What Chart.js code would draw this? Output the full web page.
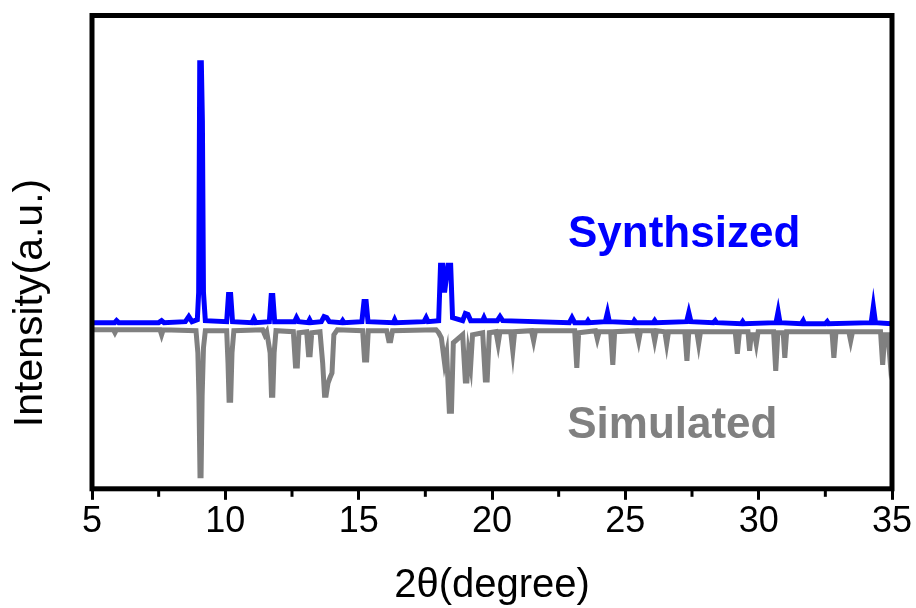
<!DOCTYPE html>
<html lang="en">
<head>
  <meta charset="UTF-8">
  <title>XRD pattern</title>
  <script src="https://cdn.jsdelivr.net/npm/chart.js"></script>
  <style>
    body { margin: 0; background: #fff; }
    #wrap { width: 916px; height: 608px; }
  </style>
</head>
<body>
  <div id="wrap"><canvas id="xrd" width="916" height="608"></canvas></div>
  <script>
    // 2theta (degree) and intensity (a.u.)
    const synthTheta = [5.0, 5.85, 5.92, 6.0, 7.5, 7.61, 7.7, 8.5, 8.63, 8.75, 8.95, 9.0, 9.04, 9.1, 9.14, 9.18, 9.25,
      10.05, 10.12, 10.2, 10.27, 11.0, 11.07, 11.14, 11.65, 11.72, 11.78, 11.85, 12.6, 12.67, 12.75, 13.1, 13.16, 13.22,
      13.6, 13.7, 13.8, 13.9, 14.35, 14.4, 14.45, 15.12, 15.2, 15.28, 15.35, 16.3, 16.35, 16.4, 17.45, 17.53, 17.6,
      18.0, 18.07, 18.15, 18.22, 18.35, 18.45, 18.52, 18.9, 19.0, 19.1, 19.2, 19.65, 19.7, 19.75, 20.2, 20.3, 20.4,
      22.9, 23.0, 23.1, 23.55, 23.6, 23.65, 24.25, 24.33, 24.4, 25.3, 25.34, 25.4, 26.05, 26.1, 26.15, 27.3, 27.38, 27.46,
      28.3, 28.37, 28.42, 29.35, 29.4, 29.45, 30.65, 30.73, 30.8, 31.6, 31.67, 31.72, 32.5, 32.57, 32.62, 34.22, 34.3, 34.38, 35.0];
    const synthInt = [0, 0, 2, 0, 0, 2, 0, 1, 6, 1, 3, 30, 258, 258, 200, 30, 2,
      1, 28, 28, 1, 0, 4, 0, 1, 27, 27, 1, 1, 5, 1, 0, 3, 0,
      1, 6, 5, 1, 0, 2, 0, 1, 21, 21, 1, 0, 3, 0, 1, 5, 1,
      2, 57, 57, 30, 57, 57, 5, 2, 9, 8, 2, 2, 5, 2, 2, 6, 2,
      0, 5, 0, 0, 2, 0, 1, 10, 1, 0, 2, 0, 0, 2, 0, 1, 10, 1,
      0, 2, 0, -1, 1, -1, 0, 11, 0, -1, 2, -1, -1, 1, -1, 0, 16, 0, -1];

    const simTheta = [5.0, 5.8, 5.86, 5.92, 7.55, 7.61, 7.67, 8.9, 8.97, 9.01, 9.05, 9.09, 9.13, 9.18, 9.25,
      10.05, 10.1, 10.14, 10.2, 10.25, 10.32, 11.4, 11.48, 11.55, 11.68, 11.73, 11.78, 11.83, 11.9,
      12.55, 12.63, 12.7, 12.76, 13.05, 13.12, 13.18, 13.24, 13.55, 13.65, 13.72, 13.78, 13.85, 13.92, 14.0, 14.07, 14.2,
      15.15, 15.22, 15.3, 15.36, 16.05, 16.13, 16.2, 16.27, 17.9, 18.0, 18.1, 18.22, 18.3, 18.4, 18.48, 18.55,
      18.9, 19.0, 19.06, 19.12, 19.2, 19.27, 19.65, 19.75, 19.82, 19.9, 20.15, 20.23, 20.3, 20.7, 20.78, 20.85,
      21.48, 21.56, 21.63, 23.1, 23.18, 23.25, 23.88, 23.95, 24.02, 24.45, 24.53, 24.6, 25.42, 25.5, 25.57,
      26.03, 26.1, 26.17, 26.48, 26.55, 26.62, 27.23, 27.31, 27.38, 27.68, 27.75, 27.82, 29.12, 29.2, 29.28,
      29.6, 29.66, 29.72, 29.85, 29.91, 29.98, 30.56, 30.64, 30.72, 30.92, 30.98, 31.05, 32.75, 32.82, 32.9,
      33.38, 33.45, 33.52, 34.57, 34.65, 34.73, 34.85, 34.92, 35.0];
    const simInt = [-7, -7, -10, -7, -7, -12, -7, -8, -30, -73, -152, -152, -73, -25, -8,
      -8, -40, -77, -77, -30, -8, -7, -12, -9, -30, -72, -72, -30, -8,
      -9, -43, -43, -10, -9, -32, -32, -10, -9, -40, -72, -72, -60, -55, -50, -12, -7,
      -8, -37, -37, -8, -8, -18, -18, -8, -7, -10, -15, -40, -30, -88, -88, -20,
      -12, -58, -58, -30, -43, -12, -10, -57, -57, -10, -9, -21, -9, -9, -28, -9,
      -8, -18, -8, -8, -45, -10, -8, -16, -9, -9, -42, -9, -8, -18, -8,
      -8, -18, -8, -9, -21, -9, -9, -38, -9, -9, -21, -9, -9, -31, -9,
      -9, -28, -12, -12, -21, -9, -9, -48, -10, -10, -35, -9, -9, -35, -9,
      -9, -18, -9, -9, -42, -12, -12, -35, -20];

    const minorTicks = [7.5, 12.5, 17.5, 22.5, 27.5, 32.5];
    const curveNames = ['Synthsized', 'Simulated'];
    const nameTheta = [22.85, 22.82];
    const nameInt = [75, -115];

    const blue = '#0000ff';
    const grey = '#808080';
    const fontFamily = '"Liberation Sans", Arial, sans-serif';

    const toPoints = (xs, ys) => xs.map((x, i) => ({ x: x, y: ys[i] }));

    const framePlugin = {
      id: 'frame',
      afterDatasetsDraw(chart) {
        const { ctx, chartArea: a, scales } = chart;
        ctx.save();
        ctx.strokeStyle = '#000';
        ctx.lineWidth = 5;
        ctx.strokeRect(a.left, a.top, a.right - a.left, a.bottom - a.top);

        // minor ticks
        ctx.lineWidth = 3;
        minorTicks.forEach(t => {
          const px = scales.x.getPixelForValue(t);
          ctx.beginPath();
          ctx.moveTo(px, a.bottom);
          ctx.lineTo(px, a.bottom + 8);
          ctx.stroke();
        });

        // curve names
        ctx.font = 'bold 44px ' + fontFamily;
        ctx.textAlign = 'left';
        ctx.textBaseline = 'alphabetic';
        curveNames.forEach((name, i) => {
          ctx.fillStyle = i === 0 ? blue : grey;
          ctx.fillText(name, scales.x.getPixelForValue(nameTheta[i]), scales.y.getPixelForValue(nameInt[i]));
        });

        // axis titles
        ctx.fillStyle = '#000';
        ctx.textAlign = 'center';
        ctx.font = '40px ' + fontFamily;
        ctx.fillText('2θ(degree)', (a.left + a.right) / 2, 597);
        ctx.translate(42, 303);
        ctx.rotate(-Math.PI / 2);
        ctx.font = '41px ' + fontFamily;
        ctx.fillText('Intensity(a.u.)', 0, 0);
        ctx.restore();
      }
    };

    new Chart(document.getElementById('xrd'), {
      type: 'line',
      data: {
        datasets: [
          {
            label: 'Synthsized',
            data: toPoints(synthTheta, synthInt),
            borderColor: blue,
            borderWidth: 5,
            pointRadius: 0,
            tension: 0
          },
          {
            label: 'Simulated',
            data: toPoints(simTheta, simInt),
            borderColor: grey,
            borderWidth: 5,
            pointRadius: 0,
            tension: 0
          }
        ]
      },
      options: {
        responsive: false,
        animation: false,
        layout: { padding: { left: 92, right: 24, top: 15.5, bottom: 63 } },
        plugins: {
          legend: { display: false },
          tooltip: { enabled: false }
        },
        scales: {
          x: {
            type: 'linear',
            min: 5,
            max: 35,
            border: { display: false },
            grid: {
              drawOnChartArea: false,
              drawTicks: true,
              tickLength: 11,
              tickWidth: 3,
              tickColor: '#000'
            },
            ticks: {
              stepSize: 5,
              padding: 1,
              color: '#000',
              font: { family: fontFamily, size: 36 }
            }
          },
          y: {
            display: false,
            min: -165,
            max: 305
          }
        }
      },
      plugins: [framePlugin]
    });
  </script>
</body>
</html>
